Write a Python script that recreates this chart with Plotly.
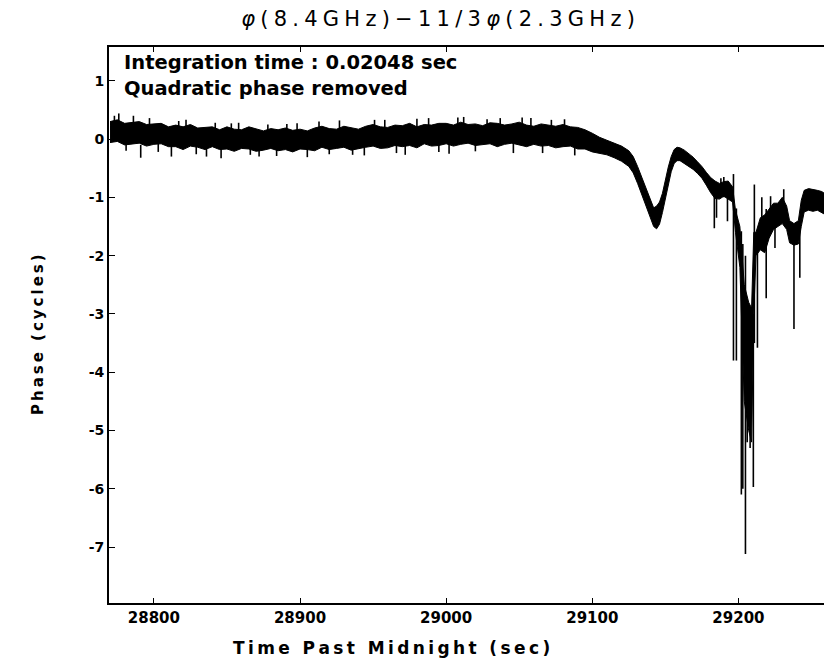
import plotly.graph_objects as go

# band of the phase record (sec, cycles)
band_t = [28770, 28775, 28780, 28785, 28790, 28795, 28800, 28805, 28810, 28815,
          28820, 28825, 28830, 28835, 28840, 28845, 28850, 28855, 28860, 28865,
          28870, 28875, 28880, 28885, 28890, 28895, 28900, 28905, 28910, 28915,
          28920, 28925, 28930, 28935, 28940, 28945, 28950, 28955, 28960, 28965,
          28970, 28975, 28980, 28985, 28990, 28995, 29000, 29005, 29010, 29015,
          29020, 29025, 29030, 29035, 29040, 29045, 29050, 29055, 29060, 29065,
          29070, 29075, 29080, 29085, 29090, 29095, 29100, 29105, 29110, 29115,
          29120, 29125, 29128, 29131, 29134, 29137, 29140, 29142, 29144, 29146,
          29148, 29150, 29152, 29154, 29156, 29158, 29160, 29163, 29166, 29169,
          29172, 29175, 29178, 29181, 29184, 29187, 29190, 29193, 29196, 29198,
          29201, 29204, 29207, 29209, 29210.5, 29212, 29215, 29218, 29221, 29224,
          29227, 29230, 29233, 29235, 29238, 29241, 29243, 29245, 29248, 29251,
          29254, 29257, 29260, 29264, 29270]
band_hi = [0.30, 0.33, 0.27, 0.28, 0.30, 0.25, 0.26, 0.27, 0.21, 0.24,
           0.21, 0.25, 0.19, 0.20, 0.21, 0.16, 0.21, 0.17, 0.16, 0.21,
           0.17, 0.14, 0.18, 0.16, 0.19, 0.15, 0.17, 0.14, 0.19, 0.22,
           0.18, 0.17, 0.22, 0.20, 0.17, 0.22, 0.25, 0.21, 0.20, 0.24,
           0.23, 0.27, 0.21, 0.25, 0.24, 0.27, 0.27, 0.24, 0.29, 0.25,
           0.26, 0.23, 0.28, 0.27, 0.24, 0.26, 0.29, 0.24, 0.22, 0.26,
           0.24, 0.22, 0.25, 0.21, 0.20, 0.16, 0.10, 0.03, -0.02, -0.07,
           -0.12, -0.20, -0.30, -0.47, -0.67, -0.88, -1.08, -1.18, -1.15, -1.08,
           -0.93, -0.68, -0.48, -0.30, -0.18, -0.14, -0.15, -0.19, -0.25, -0.31,
           -0.39, -0.47, -0.57, -0.66, -0.72, -0.76, -0.73, -0.72, -0.82, -1.22,
           -1.50, -2.50, -2.80, -2.90, -1.60, -1.60, -1.35, -1.30, -1.20, -1.10,
           -1.10, -1.00, -1.15, -1.40, -1.45, -1.40, -1.05, -0.88, -0.85, -0.86,
           -0.88, -0.90, -0.95, -1.02, -1.05]
band_lo = [-0.06, -0.04, -0.10, -0.08, -0.07, -0.12, -0.09, -0.08, -0.13, -0.13,
           -0.18, -0.12, -0.14, -0.18, -0.13, -0.18, -0.17, -0.21, -0.16, -0.17,
           -0.21, -0.19, -0.16, -0.20, -0.18, -0.22, -0.17, -0.18, -0.20, -0.14,
           -0.18, -0.16, -0.14, -0.19, -0.16, -0.14, -0.12, -0.16, -0.15, -0.11,
           -0.13, -0.11, -0.15, -0.08, -0.12, -0.11, -0.08, -0.12, -0.09, -0.07,
           -0.11, -0.10, -0.08, -0.13, -0.09, -0.07, -0.10, -0.13, -0.09, -0.12,
           -0.11, -0.15, -0.13, -0.12, -0.17, -0.17, -0.22, -0.24, -0.27, -0.32,
           -0.38, -0.47, -0.58, -0.76, -0.96, -1.16, -1.36, -1.50, -1.54, -1.46,
           -1.26, -1.01, -0.76, -0.56, -0.42, -0.37, -0.37, -0.42, -0.47, -0.52,
           -0.59, -0.67, -0.79, -0.92, -1.02, -1.03, -0.98, -1.03, -1.08, -1.60,
           -2.20, -4.50, -5.00, -5.20, -3.00, -2.00, -1.90, -1.95, -1.70, -1.55,
           -1.50, -1.45, -1.55, -1.78, -1.82, -1.80, -1.50, -1.25, -1.22, -1.24,
           -1.22, -1.26, -1.30, -1.36, -1.38]

# single excursions (time, one end, other end)
spike_t = [28773, 28776, 28781, 28786, 28791, 28797, 28803, 28812, 28817, 28822,
           28829, 28836, 28842, 28846, 28853, 28858, 28866, 28872, 28878, 28884,
           28891, 28898, 28905, 28913, 28920, 28927, 28936, 28944, 28951, 28958,
           28966, 28972, 28980, 28988, 28995, 29002, 29008, 29012, 29020, 29028,
           29037, 29046, 29052, 29058, 29066, 29072, 29081, 29088,
           29183.5, 29185, 29188, 29190, 29192.5, 29196.6, 29198.6, 29202, 29203,
           29204.8, 29206, 29208, 29210.2, 29210.9, 29213, 29216, 29219, 29222,
           29225, 29231, 29238, 29242]
spike_a = [0.25, 0.25, -0.05, 0.20, -0.10, 0.20, -0.05, -0.10, 0.20, 0.15,
           -0.10, -0.10, 0.15, -0.10, 0.15, 0.10, -0.10, -0.10, 0.10, -0.10,
           0.12, 0.10, -0.10, 0.15, -0.10, 0.15, -0.10, -0.10, 0.20, 0.15,
           -0.05, -0.05, 0.20, 0.20, -0.05, -0.05, 0.20, 0.20, -0.05, 0.20,
           0.20, -0.05, 0.20, 0.20, -0.05, 0.20, 0.20, -0.10,
           -0.90, -0.90, -0.67, -0.65, -0.90, -0.60, -1.19, -1.58, -1.80,
           -2.00, -2.80, -2.90, -3.00, -0.78, -1.75, -1.00, -1.20, -0.98,
           -1.20, -0.86, -1.50, -1.50]
spike_b = [0.40, 0.44, -0.20, 0.40, -0.32, 0.36, -0.22, -0.30, 0.31, 0.33,
           -0.26, -0.30, 0.28, -0.33, 0.27, 0.28, -0.27, -0.30, 0.25, -0.29,
           0.26, 0.27, -0.31, 0.30, -0.26, 0.32, -0.27, -0.28, 0.33, 0.33,
           -0.24, -0.27, 0.35, 0.36, -0.22, -0.25, 0.37, 0.38, -0.21, 0.34,
           0.36, -0.24, 0.37, 0.36, -0.24, 0.33, 0.34, -0.28,
           -1.53, -1.35, -1.00, -1.00, -1.41, -3.80, -3.80, -6.10, -6.00,
           -7.12, -5.20, -5.30, -5.97, -3.50, -3.58, -1.60, -2.73, -1.50,
           -1.87, -1.30, -3.26, -2.38]

x_ticks = [28800, 28900, 29000, 29100, 29200]
y_ticks = [1, 0, -1, -2, -3, -4, -5, -6, -7]

# the page body has a small margin, so the layout is placed a bit up/left
W, H = 832, 664
L, T, B = 101, 39, 69
PW, PH = W - L, H - T - B


def px(x):
    return (x - L) / PW


def py(y):
    return 1 - (y - T) / PH


def spaced(s, sep="\u2009"):
    return sep.join(s)


sx, sy = [], []
for t, a, b in zip(spike_t, spike_a, spike_b):
    sx += [t, t, None]
    sy += [a, b, None]

fig = go.Figure()
fig.add_trace(go.Scatter(x=band_t, y=band_lo, mode="lines",
                         line=dict(color="black", width=1), showlegend=False))
fig.add_trace(go.Scatter(x=band_t, y=band_hi, mode="lines", fill="tonexty",
                         fillcolor="black", line=dict(color="black", width=1),
                         showlegend=False))
fig.add_trace(go.Scatter(x=sx, y=sy, mode="lines",
                         line=dict(color="black", width=1.6), showlegend=False))

sp = "\u2005"
title = (f"<i>φ</i>{sp}" + spaced("(8.4GHz)−11/3", sp) + f"{sp}<i>φ</i>{sp}"
         + spaced("(2.3GHz)", sp))

fig.update_layout(
    width=W, height=H,
    margin=dict(l=L, r=0, t=T, b=B),
    paper_bgcolor="white", plot_bgcolor="white",
    font=dict(family="DejaVu Sans", color="black"),
    title=dict(text=title, x=430 / W, xanchor="center", y=1 - 3 / H,
               yanchor="top", font=dict(size=21, family="DejaVu Sans")),
)

fig.update_xaxes(
    range=[28769.3, 29269.5], tickvals=x_ticks, ticktext=[str(v) for v in x_ticks],
    showline=True, linecolor="black", linewidth=2, mirror="ticks",
    ticks="inside", ticklen=5, tickcolor="black", showgrid=False, zeroline=False,
    tickfont=dict(size=15, family="DejaVu Sans", weight="bold"),
)
fig.update_yaxes(
    range=[-7.96, 1.58], tickvals=y_ticks, ticktext=[str(v) for v in y_ticks],
    showline=True, linecolor="black", linewidth=2,
    ticks="inside", ticklen=6, tickcolor="black", showgrid=False, zeroline=False,
    tickfont=dict(size=14, family="DejaVu Sans", weight="bold"),
)

bold = dict(family="DejaVu Sans", weight="bold")
fig.add_annotation(text=spaced("Time Past Midnight (sec)"), xref="paper", yref="paper",
                   x=px(383), y=py(640), xanchor="center", yanchor="middle",
                   showarrow=False, font=dict(size=17, **bold))
fig.add_annotation(text=spaced("Phase (cycles)"), xref="paper", yref="paper",
                   x=px(30), y=py(327), xanchor="center", yanchor="middle",
                   textangle=-90, showarrow=False, font=dict(size=15, **bold))
fig.add_annotation(text="Integration time : 0.02048 sec", xref="paper", yref="paper",
                   x=px(114), y=py(54), xanchor="left", yanchor="middle",
                   showarrow=False, font=dict(size=19.5, **bold))
fig.add_annotation(text="Quadratic phase removed", xref="paper", yref="paper",
                   x=px(114), y=py(80), xanchor="left", yanchor="middle",
                   showarrow=False, font=dict(size=19.5, **bold))

fig.write_html("out.html")
